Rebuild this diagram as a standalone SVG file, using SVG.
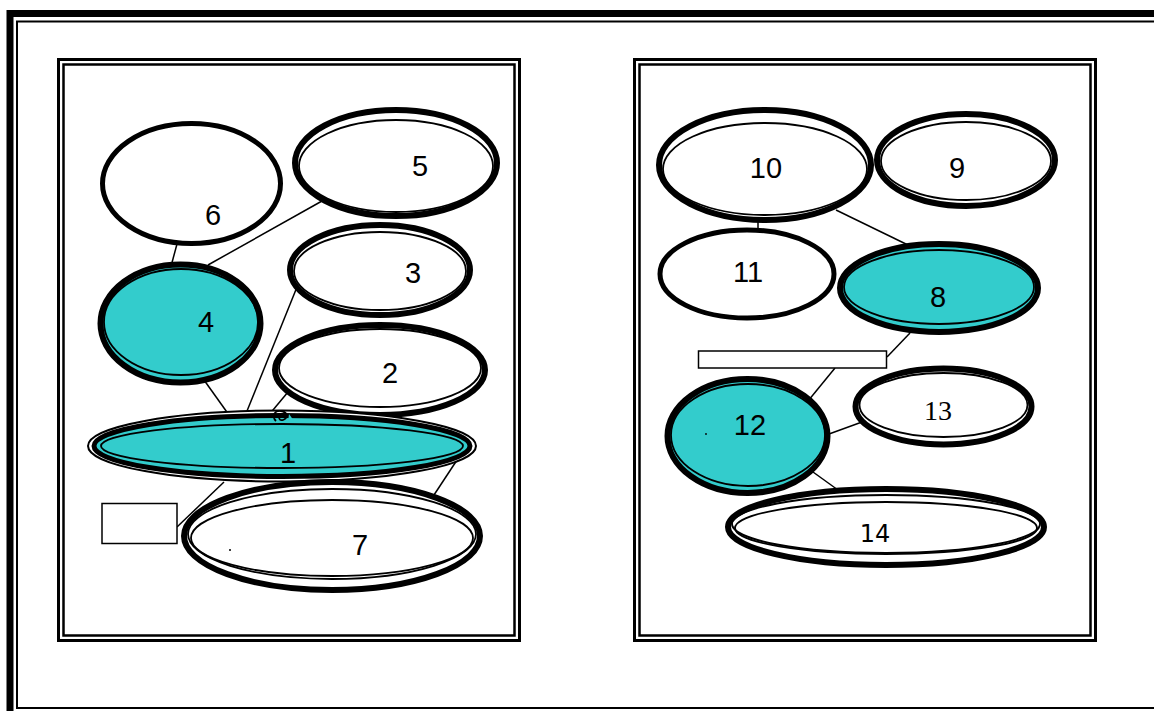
<svg xmlns="http://www.w3.org/2000/svg" width="1154" height="711" viewBox="0 0 1154 711">
<style>
.bg{fill:#fff}
.frame{fill:none;stroke:#000}
.thick{fill:#fff;stroke:#000;stroke-width:6}
.single{fill:#fff;stroke:#000;stroke-width:5}
.thickc{fill:#33cccc;stroke:#000;stroke-width:6}
.thin{fill:none;stroke:#000;stroke-width:1.8}
.conn line{stroke:#000;stroke-width:1.5}
.box{fill:#fff;stroke:#000;stroke-width:1.5}
.t{font-family:"Liberation Sans",Arial,sans-serif;font-size:29px;fill:#000;text-anchor:middle}
.ts{font-family:"Liberation Serif","Times New Roman",serif;font-size:28px;fill:#000;text-anchor:middle}
.td{font-family:"DejaVu Sans",sans-serif;font-size:24px;fill:#000;text-anchor:middle}
</style>
<rect class="bg" x="0" y="0" width="1154" height="711"/>
<g id="frame">
<rect class="frame" x="10" y="13.5" width="1170" height="720" stroke-width="7"/>
<rect class="frame" x="17" y="21.5" width="1160" height="686.5" stroke-width="2"/>
<rect class="frame" x="58.5" y="59.5" width="461" height="581" stroke-width="3"/>
<rect class="frame" x="63.5" y="64.5" width="451" height="571" stroke-width="2.5"/>
<rect class="frame" x="634.5" y="59.5" width="461" height="581" stroke-width="3"/>
<rect class="frame" x="639.5" y="64.5" width="451" height="571" stroke-width="2.5"/>
</g>
<g id="connectors" class="conn">
<line x1="177" y1="244" x2="170" y2="270"/>
<line x1="322" y1="201" x2="208" y2="265"/>
<line x1="297" y1="287" x2="245" y2="416"/>
<line x1="288" y1="392" x2="268" y2="416"/>
<line x1="204" y1="380" x2="229" y2="415"/>
<line x1="459" y1="457" x2="432" y2="498"/>
<line x1="224" y1="482" x2="177" y2="527"/>
<line x1="330" y1="478" x2="330" y2="486"/>
<line x1="758" y1="220" x2="758" y2="230"/>
<line x1="836" y1="210" x2="908" y2="245"/>
<line x1="910" y1="333" x2="887" y2="357"/>
<line x1="835" y1="368" x2="808" y2="401"/>
<line x1="829" y1="434" x2="862" y2="422"/>
<line x1="813" y1="472" x2="838" y2="490"/>
</g>
<g id="node6">
<ellipse class="single" cx="191.5" cy="183.5" rx="89" ry="60"/>
<text class="t" x="213" y="225">6</text>
</g>
<g id="node5">
<ellipse class="thick" cx="396" cy="163" rx="101" ry="53"/>
<ellipse class="thin" cx="396" cy="166" rx="97" ry="46"/>
<text class="t" x="420" y="176">5</text>
</g>
<g id="node3">
<ellipse class="thick" cx="380" cy="270" rx="90" ry="45"/>
<ellipse class="thin" cx="380" cy="271" rx="86" ry="39"/>
<text class="t" x="413" y="283">3</text>
</g>
<g id="node2">
<ellipse class="thick" cx="380" cy="370" rx="105" ry="45"/>
<ellipse class="thin" cx="380" cy="368" rx="101" ry="39"/>
<text class="t" x="390" y="383">2</text>
</g>
<g id="node4">
<ellipse class="thickc" cx="180.5" cy="323.5" rx="80" ry="59"/>
<ellipse class="thin" cx="181" cy="322" rx="77" ry="53"/>
<text class="t" x="206" y="332">4</text>
</g>
<g id="node1">
<ellipse cx="282" cy="446" rx="194" ry="35.5" fill="#fff" stroke="#000" stroke-width="2"/>
<ellipse cx="282" cy="446" rx="188" ry="30.5" fill="#33cccc" stroke="#000" stroke-width="5"/>
<ellipse class="thin" cx="282" cy="446" rx="181" ry="22" stroke-width="2.4"/>
<path d="M276 421 C271 416 275 410 281 411 C288 412 288 418 283 420 C279 421 278 417 281 416" fill="none" stroke="#000" stroke-width="1.8"/>
<path d="M289 414 L294 421 L288 422 Z" fill="#33cccc"/>
<text class="t" x="288" y="463">1</text>
</g>
<g id="node7">
<ellipse class="thick" cx="332" cy="536" rx="148" ry="54"/>
<ellipse class="thin" cx="332" cy="534" rx="144" ry="45" stroke-width="2.2"/>
<ellipse class="thin" cx="332" cy="538" rx="141" ry="38"/>
<text class="t" x="360" y="555">7</text>
<circle cx="230" cy="550" r="1" fill="#000"/>
</g>
<g id="box1">
<rect class="box" x="102" y="503.5" width="75" height="40"/>
</g>
<g id="node10">
<ellipse class="thick" cx="765" cy="165" rx="106" ry="55"/>
<ellipse class="thin" cx="765" cy="169" rx="102" ry="46" stroke-width="2.2"/>
<text class="t" x="766" y="178">10</text>
</g>
<g id="node9">
<ellipse class="thick" cx="966" cy="160" rx="89" ry="46"/>
<ellipse class="thin" cx="966" cy="161" rx="85" ry="39"/>
<text class="t" x="957" y="178">9</text>
</g>
<g id="node11">
<ellipse class="single" cx="747" cy="274" rx="87" ry="44"/>
<text class="t" x="748" y="282">11</text>
</g>
<g id="node8">
<ellipse class="thickc" cx="939" cy="288" rx="99" ry="44"/>
<ellipse class="thin" cx="939" cy="287" rx="95" ry="37"/>
<text class="t" x="938" y="307" font-size="31">8</text>
</g>
<g id="box2">
<rect class="box" x="698.5" y="351" width="188" height="17"/>
</g>
<g id="node12">
<ellipse class="thickc" cx="747.5" cy="436" rx="80" ry="57"/>
<ellipse class="thin" cx="748" cy="435" rx="77" ry="51"/>
<text class="t" x="750" y="435" font-size="23">12</text>
<circle cx="706" cy="434" r="0.9" fill="#000"/>
</g>
<g id="node13">
<ellipse class="thick" cx="943.5" cy="406.5" rx="88" ry="38"/>
<ellipse class="thin" cx="943.5" cy="405" rx="84" ry="32"/>
<text class="ts" x="938" y="420">13</text>
</g>
<g id="node14">
<ellipse class="thick" cx="886" cy="527" rx="158" ry="38"/>
<ellipse class="thin" cx="886" cy="524" rx="154" ry="29" stroke-width="2"/>
<ellipse class="thin" cx="886" cy="528" rx="151" ry="26"/>
<text class="td" x="875" y="542">14</text>
</g>
</svg>
